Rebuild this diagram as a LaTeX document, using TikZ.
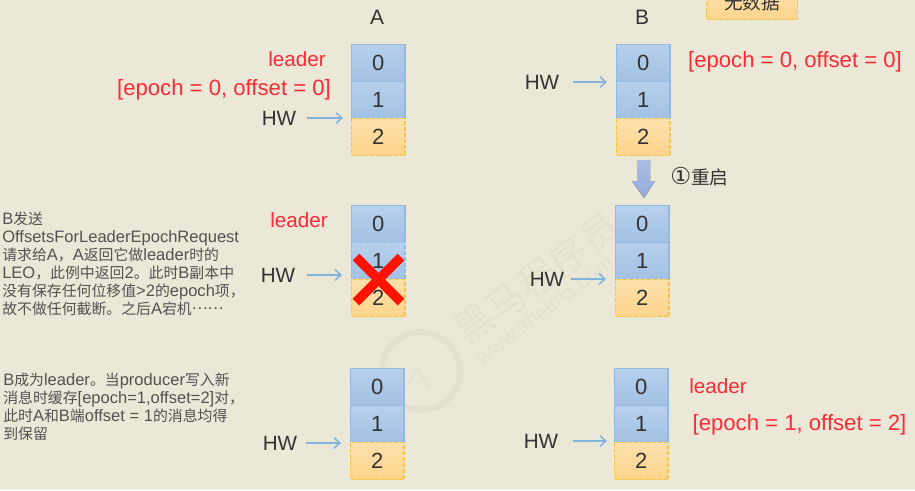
\documentclass[tikz,border=0pt]{standalone}
\usepackage{fontspec}
\setmainfont{Liberation Sans}
\newfontfamily\cjk{Noto Sans CJK SC}
\newfontfamily\cjknote[Scale=0.9]{Noto Sans CJK SC}
\newfontfamily\symb[Scale=1.25]{DejaVu Sans}
\newcommand\zh[1]{{\cjknote #1}}
\definecolor{bgc}{HTML}{EBE8D8}
\definecolor{ink}{HTML}{333333}
\definecolor{redt}{HTML}{FB2A35}
\definecolor{bluel}{HTML}{93BBE1}
\definecolor{oranl}{HTML}{F6C548}
\definecolor{arrowc}{HTML}{7FB4DC}
\definecolor{wm}{HTML}{E4E1D1}
\definecolor{B1}{HTML}{B7D0EC}
\definecolor{B2}{HTML}{A2C1E4}
\definecolor{O1}{HTML}{FBE0AC}
\definecolor{O2}{HTML}{FFD48C}
\definecolor{A1}{HTML}{ABBDE4}
\definecolor{A2}{HTML}{92ACDC}
\usetikzlibrary{arrows.meta}
\tikzset{
  x=0.75pt,y=-0.75pt,
  cellblue/.style={draw=bluel,line width=1pt,top color=B1,bottom color=B2,minimum width=40pt,minimum height=27.5pt,inner sep=0pt,text=ink,font=\fontsize{16.5}{18}\selectfont,anchor=north west},
  celldash/.style={cellblue,dash pattern=on 3pt off 1.5pt},
  cellorange/.style={cellblue,draw=oranl,top color=O1,bottom color=O2,dash pattern=on 3pt off 1.5pt},
  redlabel/.style={text=redt,font=\fontsize{15.5}{18}\selectfont,inner sep=0pt},
  epochlabel/.style={redlabel,font=\fontsize{16.6}{18}\selectfont},
  hwlabel/.style={text=ink,font=\fontsize{15.5}{18}\selectfont,inner sep=0pt},
  hwarrow/.style={draw=arrowc,line width=1.1pt,-{Straight Barb[length=4.5pt,width=8pt]}},
  note/.style={text=ink!85!white,font=\fontsize{12.4}{13.5}\selectfont,align=left,anchor=north west,inner sep=0pt},
  title/.style={text=ink,font=\fontsize{15.7}{18}\selectfont,inner sep=0pt},
  crossbar/.style={draw=red!85!orange,line width=7pt},
}
\begin{document}
\begin{tikzpicture}
\useasboundingbox (0,0) rectangle (915,490);
\fill[bgc] (0,0) rectangle (915,490);
\fill[white!60!bgc] (0,488.5) rectangle (915,490);
% watermark
\node[text=wm,rotate=36,font=\cjk\fontsize{29}{32}\selectfont,inner sep=0pt] (wmtext) at (537,278) {黑马程序员};
\node[text=wm,rotate=37,font=\fontsize{16}{18}\selectfont,inner sep=0pt] (wmurl) at (544,310) {www.itheima.com};
\draw[wm,line width=4.5pt] (421,371) circle (39);
\draw[wm,line width=1.5pt] (408,385) -- (417,368) -- (430,388);
% top legend box, cut by the edge
\node[cellorange,minimum width=68pt,minimum height=24pt] (nodata) at (706,-13) {};
\node[text=ink,font=\cjk\fontsize{14}{16}\selectfont,inner sep=0pt] (nodatat) at (752,2) {无数据};
% titles
\node[title] (ta) at (377,17) {A};
\node[title] (tb) at (642,17) {B};
% A row 1
\node[cellblue] (a10) at (351,44) {0};
\node[cellblue] (a11) at (351,81) {1};
\node[cellorange] (a12) at (351,118) {2};
% B row 1
\node[cellblue] (b10) at (616,44) {0};
\node[cellblue] (b11) at (616,81) {1};
\node[cellorange] (b12) at (616,118) {2};
% A row 2
\node[cellblue] (a20) at (351,205) {0};
\node[celldash] (a21) at (351,242) {1};
\node[cellorange] (a22) at (351,279) {2};
% B row 2
\node[cellblue] (b20) at (615,205) {0};
\node[cellblue] (b21) at (615,242) {1};
\node[cellorange] (b22) at (615,279) {2};
% A row 3
\node[cellblue] (a30) at (350,368) {0};
\node[cellblue] (a31) at (350,405) {1};
\node[cellorange] (a32) at (350,442) {2};
% B row 3
\node[cellblue] (b30) at (614,368) {0};
\node[cellblue] (b31) at (614,405) {1};
\node[cellorange] (b32) at (614,442) {2};
% red labels
\node[redlabel] (l1) at (297,59) {leader};
\node[epochlabel] (e1) at (224,90) {[epoch = 0, offset = 0]};
\node[epochlabel] (e2) at (795,62) {[epoch = 0, offset = 0]};
\node[redlabel] (l2) at (299,220) {leader};
\node[redlabel] (l3) at (718,386) {leader};
\node[epochlabel] (e3) at (799.5,425) {[epoch = 1, offset = 2]};
% HW
\node[hwlabel] (h1) at (279,118) {HW};
\node[hwlabel] (h2) at (542,82) {HW};
\node[hwlabel] (h3) at (278,275) {HW};
\node[hwlabel] (h4) at (547,279) {HW};
\node[hwlabel] (h5) at (280,443) {HW};
\node[hwlabel] (h6) at (541,441) {HW};
\coordinate (p1) at (343,118);
\coordinate (p2) at (607,82);
\coordinate (p3) at (342,275);
\coordinate (p4) at (606,279);
\coordinate (p5) at (341,443);
\coordinate (p6) at (607,441);
\draw[hwarrow] (307,118) -- (p1);
\draw[hwarrow] (573,82) -- (p2);
\draw[hwarrow] (307,275) -- (p3);
\draw[hwarrow] (571,279) -- (p4);
\draw[hwarrow] (306,443) -- (p5);
\draw[hwarrow] (573,441) -- (p6);
% restart arrow
\fill[top color=A1,bottom color=A2] (637,160) -- (650,160) -- (650,181) -- (655,181) -- (644,198) -- (632,181) -- (637,181) -- cycle;
\node[text=ink,font=\cjk\fontsize{14}{16}\selectfont,inner sep=0pt,anchor=west] (restart) at (670,177) {{\symb ①}重启};
% red cross
\draw[crossbar] (356,257) -- (401,302);
\draw[crossbar] (401,257) -- (356,302);
% notes
\node[note] (n1) at (2,212) {B\zh{发送}\\OffsetsForLeaderEpochRequest\\\zh{请求给}A\zh{，}A\zh{返回它做}leader\zh{时的}\\LEO\zh{，此例中返回}2\zh{。此时}B\zh{副本中}\\\zh{没有保存任何位移值}>2\zh{的}epoch\zh{项，}\\\zh{故不做任何截断。之后}A\zh{宕机}\raisebox{0.3em}{\zh{……}}};
\node[note] (n2) at (3,373) {B\zh{成为}leader\zh{。当}producer\zh{写入新}\\\zh{消息时缓存}[epoch=1,offset=2]\zh{对，}\\\zh{此时}A\zh{和}B\zh{端}offset = 1\zh{的消息均得}\\\zh{到保留}};
\end{tikzpicture}
\end{document}
